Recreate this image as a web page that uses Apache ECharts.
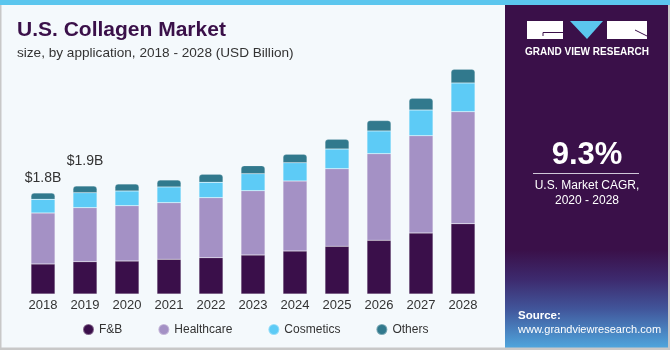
<!DOCTYPE html>
<html>
<head>
<meta charset="utf-8">
<script src="https://cdn.jsdelivr.net/npm/echarts@6/dist/echarts.min.js"></script>
<style>
html,body{margin:0;padding:0;background:#F4F9FC;}
#chart{width:670px;height:350px;}
</style>
</head>
<body>
<div id="chart"></div>
<script>
var categories = ['2018','2019','2020','2021','2022','2023','2024','2025','2026','2027','2028'];
var fnb        = [0.535,0.576,0.588,0.619,0.647,0.695,0.766,0.850,0.957,1.087,1.253];
var healthcare = [0.909,0.963,0.986,1.009,1.070,1.146,1.248,1.383,1.544,1.734,1.996];
var cosmetics  = [0.244,0.267,0.262,0.280,0.274,0.303,0.326,0.351,0.405,0.458,0.512];
var others     = [0.112,0.119,0.125,0.125,0.143,0.143,0.150,0.173,0.184,0.209,0.244];
var totalLabels = ['$1.8B','$1.9B'];
var labelDistance = [8, 18];

var FONT = '"Liberation Sans", Arial, sans-serif';
var chart = echarts.init(document.getElementById('chart'));

var othersData = others.map(function (v, i) {
  if (i < totalLabels.length) {
    return {
      value: v,
      label: {
        show: true, position: 'top', distance: labelDistance[i],
        formatter: totalLabels[i], fontSize: 14, color: '#333', fontFamily: FONT
      }
    };
  }
  return v;
});

function barSeries(name, data, color, radius) {
  return {
    name: name, type: 'bar', stack: 'total', data: data, barWidth: 24,
    itemStyle: { color: color, borderRadius: radius || 0, borderColor: 'rgba(255,255,255,0.35)', borderWidth: 0.5 },
    emphasis: { disabled: true }
  };
}

var option = {
  backgroundColor: '#F4F9FC',
  animation: false,
  textStyle: { fontFamily: FONT },
  grid: { left: 22, right: 186, top: 41.5, bottom: 56 },
  xAxis: {
    type: 'category', data: categories,
    axisLine: { show: false }, axisTick: { show: false },
    axisLabel: { color: '#333', fontSize: 13, margin: 5, fontFamily: FONT }
  },
  yAxis: { type: 'value', min: 0, max: 4.5, show: false, splitLine: { show: false } },
  legend: {
    data: ['F&B', 'Healthcare', 'Cosmetics', 'Others'],
    left: 77, top: 318, icon: 'circle', itemWidth: 11, itemHeight: 11, itemGap: 35,
    textStyle: { color: '#333', fontSize: 12, fontFamily: FONT }
  },
  title: [
    { text: 'U.S. Collagen Market', left: 12, top: 15,
      textStyle: { color: '#3A1049', fontSize: 21, fontWeight: 'bold', fontFamily: FONT } },
    { text: 'size, by application, 2018 - 2028 (USD Billion)', left: 12, top: 41,
      textStyle: { color: '#333', fontSize: 13.6, fontWeight: 'normal', fontFamily: FONT } }
  ],
  series: [
    barSeries('F&B', fnb, '#3A0F4A'),
    barSeries('Healthcare', healthcare, '#A491C5'),
    barSeries('Cosmetics', cosmetics, '#5DCBF6'),
    barSeries('Others', othersData, '#31798D', [3, 3, 0, 0])
  ],
  graphic: [
    { type: 'rect', shape: { x: 0, y: 0, width: 670, height: 5 }, style: { fill: '#5BC6EE' }, z: 10 },
    { type: 'rect', shape: { x: 0, y: 5, width: 1.5, height: 345 }, style: { fill: '#C8C8C8' }, z: 10 },
    { type: 'rect', shape: { x: 0, y: 347.5, width: 670, height: 2.5 }, style: { fill: '#C8C8C8' }, z: 10 },
    { type: 'rect', shape: { x: 505, y: 5, width: 165, height: 343 }, style: { fill: '#3A1049' }, z: 5 },
    { type: 'rect', shape: { x: 505, y: 250, width: 165, height: 98 },
      style: { fill: new echarts.graphic.LinearGradient(0, 0, 0, 1, [
        { offset: 0, color: '#3A1049' }, { offset: 0.3, color: '#3D2A6E' },
        { offset: 0.6, color: '#41559A' }, { offset: 1, color: '#4FA6DD' }]) }, z: 6 },
    { type: 'rect', shape: { x: 668, y: 5, width: 2, height: 345 }, style: { fill: '#C8C8C8' }, z: 10 },
    // logo
    { type: 'rect', shape: { x: 527, y: 21, width: 36, height: 18 }, style: { fill: '#FFFFFF' }, z: 11 },
    { type: 'polyline', shape: { points: [[543, 36], [543, 32.5], [563, 32.5]] }, style: { stroke: '#3A1049', lineWidth: 1, fill: null }, z: 12 },
    { type: 'polygon', shape: { points: [[570, 21], [603, 21], [587, 39]] }, style: { fill: '#5BC6EE' }, z: 11 },
    { type: 'rect', shape: { x: 607, y: 21, width: 40, height: 18 }, style: { fill: '#FFFFFF' }, z: 11 },
    { type: 'line', shape: { x1: 635, y1: 30, x2: 647, y2: 36 }, style: { stroke: '#3A1049', lineWidth: 1 }, z: 12 },
    { type: 'text', x: 587, y: 52, style: { text: 'GRAND VIEW RESEARCH', fill: '#FFFFFF', font: 'bold 10px ' + FONT, align: 'center', verticalAlign: 'middle' }, z: 11 },
    { type: 'text', x: 587, y: 155.5, style: { text: '9.3%', fill: '#FFFFFF', font: 'bold 31px ' + FONT, align: 'center', verticalAlign: 'middle' }, z: 11 },
    { type: 'line', shape: { x1: 533, y1: 173.5, x2: 639, y2: 173.5 }, style: { stroke: '#CFC7D8', lineWidth: 1 }, z: 11 },
    { type: 'text', x: 587, y: 185.5, style: { text: 'U.S. Market CAGR,', fill: '#FFFFFF', font: '12px ' + FONT, align: 'center', verticalAlign: 'middle' }, z: 11 },
    { type: 'text', x: 587, y: 200.5, style: { text: '2020 - 2028', fill: '#FFFFFF', font: '12px ' + FONT, align: 'center', verticalAlign: 'middle' }, z: 11 },
    { type: 'text', x: 518, y: 316, style: { text: 'Source:', fill: '#FFFFFF', font: 'bold 11.5px ' + FONT, align: 'left', verticalAlign: 'middle' }, z: 11 },
    { type: 'text', x: 518, y: 329.5, style: { text: 'www.grandviewresearch.com', fill: '#FFFFFF', font: '11px ' + FONT, align: 'left', verticalAlign: 'middle' }, z: 11 }
  ]
};
chart.setOption(option);
</script>
</body>
</html>
